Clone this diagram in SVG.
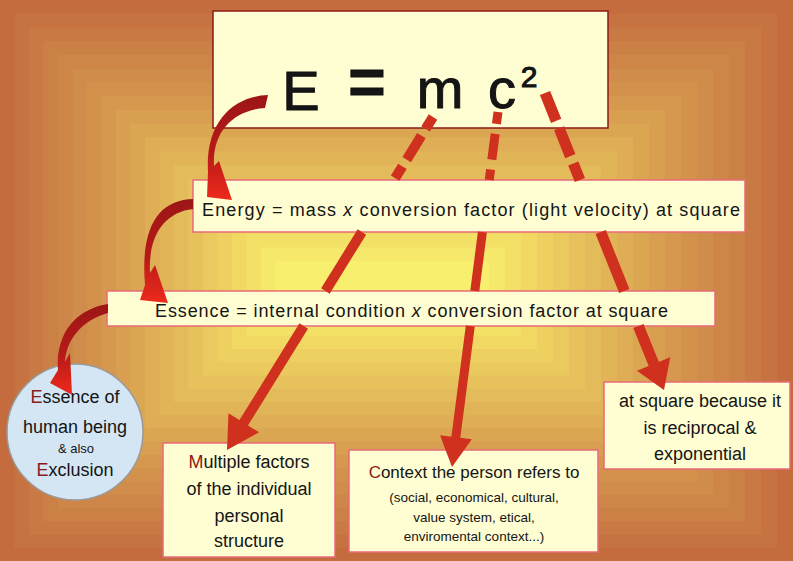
<svg xmlns="http://www.w3.org/2000/svg" width="793" height="561" viewBox="0 0 793 561">
<defs>
<style>
.box{fill:#FFFDD2;stroke:#E8697A;stroke-width:1.5}
.t{font-family:"Liberation Sans","DejaVu Sans",sans-serif;fill:#151515}
.c{text-anchor:middle}
.r{fill:#8B1A1A}
.ar{stroke:#D0301E;fill:none;stroke-linecap:butt}
.hd{fill:#D0301E}
.cv{fill:url(#cg)}
</style>
<linearGradient id="cg" x1="0" y1="0" x2="0" y2="1">
<stop offset="0" stop-color="#9C1616"/>
<stop offset="0.55" stop-color="#B61A18"/>
<stop offset="1" stop-color="#EE2A1C"/>
</linearGradient>
</defs>
<g id="background">
<rect x="0" y="0" width="793" height="561" fill="#C46C3E"/>
<rect x="14.5" y="13.75" width="762.5" height="534" fill="#C67341"/>
<rect x="29" y="27.5" width="732" height="507" fill="#C97A44"/>
<rect x="43.5" y="41.25" width="701.5" height="480" fill="#CB8046"/>
<rect x="58" y="55" width="671" height="453" fill="#CD8648"/>
<rect x="72.5" y="68.75" width="640.5" height="426" fill="#CF8C4A"/>
<rect x="87" y="82.5" width="610" height="399" fill="#D2924C"/>
<rect x="101.5" y="96.25" width="579.5" height="372" fill="#D5984E"/>
<rect x="116" y="110" width="549" height="345" fill="#D89F50"/>
<rect x="130.5" y="123.75" width="518.5" height="318" fill="#DBA652"/>
<rect x="145" y="137.5" width="488" height="291" fill="#DEAD55"/>
<rect x="159.5" y="151.25" width="457.5" height="264" fill="#E1B457"/>
<rect x="174" y="165" width="427" height="237" fill="#E4BB5A"/>
<rect x="188.5" y="178.75" width="396.5" height="210" fill="#E7C25C"/>
<rect x="203" y="192.5" width="366" height="183" fill="#EAC95E"/>
<rect x="217.5" y="206.25" width="335.5" height="156" fill="#EDD060"/>
<rect x="232" y="220" width="305" height="129" fill="#F0D863"/>
<rect x="246.5" y="233.75" width="274.5" height="102" fill="#F3E066"/>
<rect x="261" y="247.5" width="244" height="75" fill="#F6E86A"/>
<rect x="275.5" y="261.25" width="213.5" height="48" fill="#F9EF6F"/>
</g>
<g id="formula">
<rect x="213" y="11" width="395" height="117" fill="#FFFDD2" stroke="#8B1A1A" stroke-width="1.5"/>
<g class="t" font-size="56" stroke="#111" stroke-width="1">
<text class="c" x="301" y="110">E</text>
<text class="c" x="367" y="104" font-size="64" font-weight="bold">=</text>
<text class="c" x="440" y="108">m</text>
<text class="c" x="502" y="108">c</text>
<text class="c" x="529" y="87" font-size="30">2</text>
</g>
</g>
<g id="energy">
<rect class="box" x="193" y="180" width="552" height="52"/>
<text class="t" x="202" y="216" font-size="18" textLength="538">Energy = mass <tspan font-style="italic">x</tspan> conversion factor (light velocity) at square</text>
</g>
<g id="essence">
<rect class="box" x="107" y="291" width="608" height="35"/>
<text class="t" x="155" y="317" font-size="18" textLength="513">Essence = internal condition <tspan font-style="italic">x</tspan> conversion factor at square</text>
</g>
<g id="human">
<circle cx="75" cy="432" r="68" fill="#D4E6F4" stroke="#9A9A9A" stroke-width="1.5"/>
<text class="t c" x="75" y="403" font-size="18"><tspan class="r">E</tspan>ssence of</text>
<text class="t c" x="75" y="433" font-size="18">human being</text>
<text class="t c" x="76" y="453" font-size="13">&amp; also</text>
<text class="t c" x="75" y="476" font-size="18"><tspan class="r">E</tspan>xclusion</text>
</g>
<g id="multiple">
<rect class="box" x="163" y="443" width="172" height="114"/>
<text class="t c" x="249" y="468" font-size="18"><tspan class="r">M</tspan>ultiple factors</text>
<text class="t c" x="249" y="495" font-size="18">of the individual</text>
<text class="t c" x="249" y="522" font-size="18">personal</text>
<text class="t c" x="249" y="547" font-size="18">structure</text>
</g>
<g id="context">
<rect class="box" x="349" y="450" width="249" height="102"/>
<text class="t c" x="474" y="478" font-size="17"><tspan class="r">C</tspan>ontext the person refers to</text>
<text class="t c" x="474" y="502" font-size="13.5">(social, economical, cultural,</text>
<text class="t c" x="474" y="522" font-size="13.5">value system, etical,</text>
<text class="t c" x="474" y="541" font-size="13.5">enviromental context...)</text>
</g>
<g id="square">
<rect class="box" x="604" y="382" width="186" height="87"/>
<text class="t c" x="700" y="407" font-size="18">at square because it</text>
<text class="t c" x="700" y="434" font-size="18">is reciprocal &amp;</text>
<text class="t c" x="700" y="460" font-size="18">exponential</text>
</g>
<g id="connectors">
<path class="cv" d="M268 95 C235 96 205 120 208 172 L207 197 L232 200 L219 161 L214 166 C212 130 235 110 265 108 Z"/>
<path class="cv" d="M193 199 C160 200 140 225 145 285 L140 300 L168 303 L155 265 L150 273 C148 235 165 212 193 209 Z"/>
<path class="cv" d="M108 304 C80 308 55 330 58 370 L50 383 L72 395 L70 353 L65 362 C66 340 82 320 108 313 Z"/>
<path class="ar" stroke-width="10" stroke-dasharray="14 8 28 8" d="M433 117 L394 180"/>
<path class="ar" stroke-width="10" d="M361.9 232 L325.4 291 M303.7 326 L242 425.5"/>
<polygon class="hd" points="227,450 259.1,432.3 228.5,413.3"/>
<path class="ar" stroke-width="9" stroke-dasharray="12 10 26 10" d="M498 112 L489.2 180"/>
<path class="ar" stroke-width="9" d="M482.4 232 L474.8 291 M470.3 326 L455.5 440"/>
<polygon class="hd" points="452,467 471.8,439.3 440,435.2"/>
<path class="ar" stroke-width="11" stroke-dasharray="30 8" d="M545 93 L579.9 180"/>
<path class="ar" stroke-width="11" d="M600.7 232 L624.3 291 M638.4 326 L655 367"/>
<polygon class="hd" points="664,390 670.3,357.3 636.9,370.7"/>
</g>
</svg>
